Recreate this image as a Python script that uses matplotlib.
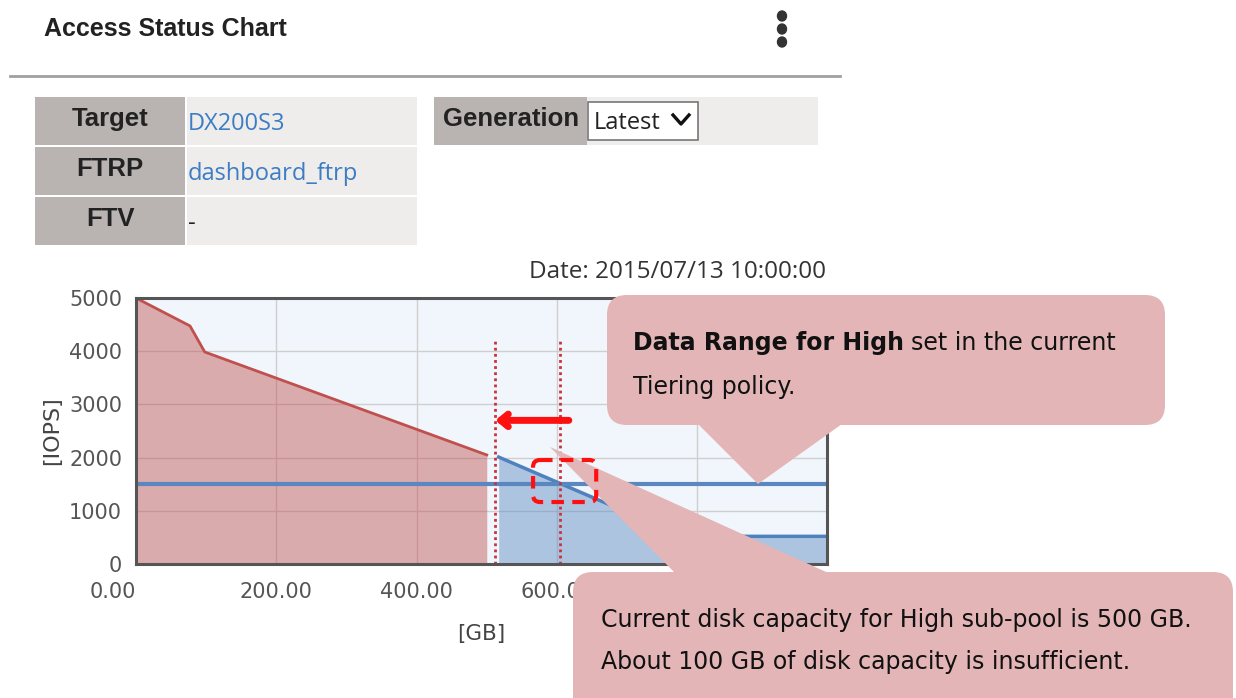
import matplotlib
matplotlib.use("Agg")
import matplotlib.pyplot as plt
from matplotlib.patches import FancyBboxPatch, Polygon, Rectangle, Ellipse
import numpy as np

# data
high_gb = [0, 77, 98, 500]            # High sub-pool curve
high_iops = [5000, 4475, 3985, 2050]
mid_gb = [517, 633, 780, 985]         # next sub-pool curve
mid_iops = [2010, 1353, 520, 520]
threshold_iops = 1500
limit_gb = [512, 605]                 # dotted markers
x_ticks = [0, 200, 400, 600, 800]
y_ticks = [0, 1000, 2000, 3000, 4000, 5000]
table_rows = [("Target", "DX200S3"), ("FTRP", "dashboard_ftrp"), ("FTV", "-")]

W, H = 1236, 698
fig = plt.figure(figsize=(W/100, H/100), dpi=100)
fig.patch.set_facecolor("white")

FONT = "Open Sans"
TICKFONT = "DejaVu Sans"
HEAD = "Liberation Sans"
RED = "#c0504d"
BLUE = "#4f81bd"
PINK = "#e3b5b6"

# ---- chart ----
x0, x1, y0, y1 = 136, 827, 298, 564   # pixel box of plot area
ax = fig.add_axes([x0/W, 1-y1/H, (x1-x0)/W, (y1-y0)/H], zorder=1)
ax.set_facecolor("#f1f6fc")
ax.set_xlim(0, 985)
ax.set_ylim(0, 5000)
ax.set_xticks(x_ticks)
ax.set_xticklabels(["%.2f" % v for v in x_ticks])
ax.set_yticks(y_ticks)
ax.grid(True, color="#cfcfcf", lw=1)
ax.set_axisbelow(True)
ax.tick_params(length=0, labelsize=15, labelcolor="#555555")
ax.tick_params(axis="x", pad=13)
ax.tick_params(axis="y", pad=10)
for lab in ax.get_xticklabels() + ax.get_yticklabels():
    lab.set_fontfamily(TICKFONT)
ax.get_xticklabels()[0].set_horizontalalignment("right")
for s in ax.spines.values():
    s.set_color("#555555")
    s.set_linewidth(2.2)

ax.fill_between(high_gb, high_iops, 0, color=RED, alpha=0.45, lw=0)
ax.plot(high_gb, high_iops, color=RED, lw=2)
ax.fill_between(mid_gb, mid_iops, 0, color=BLUE, alpha=0.42, lw=0)
ax.plot(mid_gb, mid_iops, color=BLUE, lw=2.5)
ax.axhline(threshold_iops, color="#5b87c0", lw=3)
for g in limit_gb:
    ax.plot([g, g], [0, 4250], color="#c8323a", lw=2, ls=(0, (1, 1.2)))

ax.set_xlabel("[GB]", fontsize=15.5, family=TICKFONT, color="#444444", labelpad=16)
ax.set_ylabel("[IOPS]", fontsize=16, family=TICKFONT, color="#444444", labelpad=5)

# ---- overlay in pixel coordinates ----
ov = fig.add_axes([0, 0, 1, 1], zorder=2)
ov.set_xlim(0, W)
ov.set_ylim(H, 0)
ov.axis("off")
ov.patch.set_alpha(0)

def to_px(x, y):
    # chart data -> overlay pixel coordinates
    return ov.transData.inverted().transform(ax.transData.transform((x, y)))

ov.text(44, 29, "Access Status Chart", fontsize=18, fontweight="bold",
        family=HEAD, color="#222222", va="center")
for yy in (16, 29, 42):
    ov.add_patch(Ellipse((782, yy), 9, 10, color="#333333"))
ov.plot([10, 840], [76, 76], color="#a0a0a0", lw=2)

# info table
for i, (k, v) in enumerate(table_rows):
    top = 97 + i*50
    ov.add_patch(Rectangle((35, top), 150, 48, color="#b9b3b1", lw=0))
    ov.add_patch(Rectangle((187, top), 230, 48, color="#efedeb", lw=0))
    ov.text(110, top + 22, k, fontsize=18.5, fontweight="bold", family=HEAD,
            color="#222222", ha="center", va="center")
    ov.text(188, top + 27, v, fontsize=17, family=FONT,
            color="#3c7dc4" if v != "-" else "#222222", va="center")
ov.add_patch(Rectangle((434, 97), 153, 48, color="#b9b3b1", lw=0))
ov.add_patch(Rectangle((587, 97), 231, 48, color="#efedeb", lw=0))
ov.text(511, 119, "Generation", fontsize=18.5, fontweight="bold", family=HEAD,
        color="#222222", ha="center", va="center")
ov.add_patch(Rectangle((588, 102), 110, 38, facecolor="white", edgecolor="#777777", lw=1.2))
ov.text(594, 123, "Latest", fontsize=17, family=FONT, color="#222222", va="center")
ov.plot([673, 681, 689], [115, 124, 115], color="#111111", lw=2.4)

ov.text(826, 272, "Date: 2015/07/13 10:00:00", fontsize=17.5, family=FONT,
        color="#333333", ha="right", va="center")

# arrow in chart units
ov.annotate("", xy=to_px(512, 2700), xytext=to_px(617, 2700),
            arrowprops=dict(arrowstyle="->,head_length=0.55,head_width=0.45",
                            color="#ff1010", lw=5, shrinkA=0, shrinkB=0,
                            capstyle="round", joinstyle="round"))

# callout 1
ov.add_patch(FancyBboxPatch((607, 295), 558, 130,
                            boxstyle="round,pad=0,rounding_size=20",
                            color=PINK, lw=0))
ov.add_patch(Polygon([(698, 424), (842, 424), (758, 484)], color=PINK, lw=0))
t1 = ov.text(633, 343, "Data Range for High", fontsize=17, fontweight="bold",
             family="DejaVu Sans", color="#111111", va="center")
ov.annotate("set in the current", xy=(1, 0.5), xycoords=t1,
            xytext=(5, 0), textcoords="offset points", fontsize=17,
            family="DejaVu Sans", color="#111111", va="center")
ov.text(633, 387, "Tiering policy.", fontsize=17, family="DejaVu Sans",
        color="#111111", va="center")

# callout 2
ov.add_patch(FancyBboxPatch((573, 572), 660, 160,
                            boxstyle="round,pad=0,rounding_size=20",
                            color=PINK, lw=0))
ov.add_patch(Polygon([(550, 447), (835, 576), (678, 576)], color=PINK, lw=0))
ov.text(601, 620, "Current disk capacity for High sub-pool is 500 GB.",
        fontsize=17, family="DejaVu Sans", color="#111111", va="center")
ov.text(601, 662, "About 100 GB of disk capacity is insufficient.",
        fontsize=17, family="DejaVu Sans", color="#111111", va="center")

# dashed highlight around the crossing point
bx0, by0 = to_px(566, 1955)
bx1, by1 = to_px(656, 1165)
ov.add_patch(FancyBboxPatch((bx0, by0), bx1 - bx0, by1 - by0,
                            boxstyle="round,pad=0,rounding_size=7",
                            facecolor="none", edgecolor="#ff1010", lw=3,
                            ls=(0, (3, 2))))

fig.savefig("out.png", dpi=100)
